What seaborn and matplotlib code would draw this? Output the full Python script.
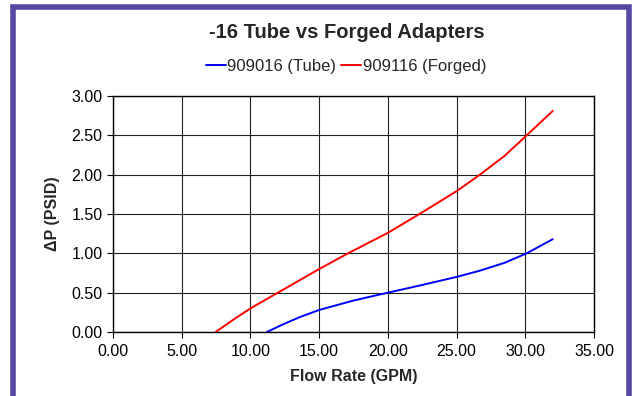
import matplotlib
matplotlib.use("Agg")
import matplotlib.pyplot as plt
import seaborn as sns
import pandas as pd
from matplotlib.patches import Rectangle
from matplotlib.lines import Line2D
from matplotlib.ticker import FormatStrFormatter

tube_x = [11.2, 12.4, 13.6, 15.0, 17.5, 20.0, 22.3, 25.0, 26.7, 28.5, 30.1, 32.0]
tube_y = [0.00, 0.10, 0.19, 0.28, 0.40, 0.50, 0.59, 0.70, 0.78, 0.88, 1.00, 1.18]
forged_x = [7.47, 8.7, 10.0, 11.8, 13.6, 15.0, 17.1, 20.0, 22.3, 25.0, 26.7, 28.5, 30.1, 32.0]
forged_y = [0.00, 0.15, 0.30, 0.48, 0.66, 0.80, 1.00, 1.26, 1.50, 1.79, 2.00, 2.24, 2.50, 2.81]
series_names = ["909016 (Tube)", "909116 (Forged)"]
series_colors = ["#0000FF", "#FF0000"]

df = pd.concat([
    pd.DataFrame({"x": tube_x, "y": tube_y, "s": series_names[0]}),
    pd.DataFrame({"x": forged_x, "y": forged_y, "s": series_names[1]}),
])

sns.set_theme(style="white")
plt.rcParams['font.family'] = ['Liberation Sans', 'DejaVu Sans']

W, H = 633, 396
fig = plt.figure(figsize=(W / 100, H / 100), dpi=100)
ax = fig.add_axes([113 / W, 1 - 332 / H, (594 - 113) / W, (332 - 96) / H])

sns.lineplot(data=df, x="x", y="y", hue="s", palette=dict(zip(series_names, series_colors)),
             ax=ax, linewidth=1.4, sort=False, estimator=None, legend=False)

ax.set_xlim(0, 35)
ax.set_ylim(0, 3)
ax.set_xticks([0, 5, 10, 15, 20, 25, 30, 35])
ax.set_yticks([0, 0.5, 1.0, 1.5, 2.0, 2.5, 3.0])
ax.xaxis.set_major_formatter(FormatStrFormatter('%.2f'))
ax.yaxis.set_major_formatter(FormatStrFormatter('%.2f'))
ax.grid(True, color="#222222", linewidth=0.8)
ax.set_axisbelow(True)
for sp in ax.spines.values():
    sp.set_color("black")
    sp.set_linewidth(1.0)
ax.tick_params(axis="both", direction="out", length=4, width=0.8, color="black",
               labelsize=11.5, labelcolor="black", bottom=True, left=True)
ax.tick_params(axis="x", pad=5)
ax.tick_params(axis="y", pad=3.5)
ax.set_xlabel("Flow Rate (GPM)", fontsize=11.5, fontweight="bold", labelpad=7)
ax.set_ylabel("ΔP (PSID)", fontsize=11.5, fontweight="bold", labelpad=8)

fig.text(347 / W, 1 - 33 / H, "-16 Tube vs Forged Adapters", ha="center", va="center",
         fontsize=14.5, fontweight="bold")

handles = [Line2D([0], [0], color=c, lw=1.4) for c in series_colors]
fig.legend(handles, series_names, loc="center", bbox_to_anchor=(346 / W, 1 - 66 / H),
           ncol=2, frameon=False, fontsize=12, handlelength=1.2, handletextpad=0.1,
           columnspacing=0.3, borderaxespad=0, borderpad=0)

fig.add_artist(Rectangle((13 / W, -0.1), (629 - 13) / W, (1 - 7 / H) + 0.1,
                         transform=fig.transFigure, fill=False, edgecolor="#5448A0",
                         linewidth=4.0, clip_on=False))

fig.savefig("out.png", dpi=100)
